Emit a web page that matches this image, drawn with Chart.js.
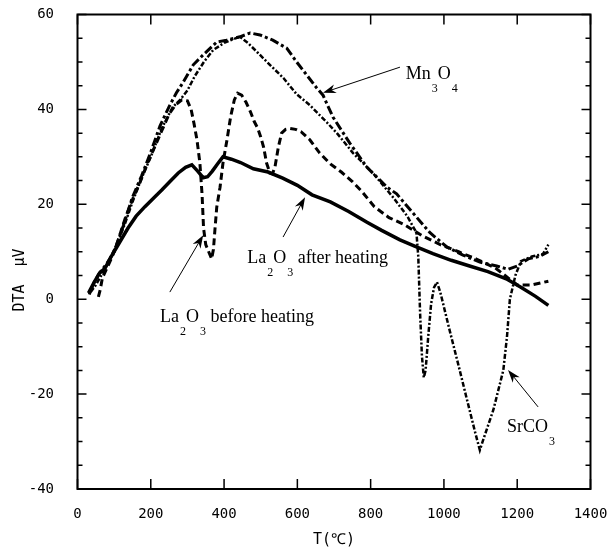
<!DOCTYPE html>
<html>
<head>
<meta charset="utf-8">
<script src="https://cdn.jsdelivr.net/npm/chart.js@4.4.1/dist/chart.umd.min.js"></script>
<style>
  html, body { margin: 0; padding: 0; background: #fff; }
  canvas { display: block; }
</style>
</head>
<body>
<canvas id="dta" width="609" height="552"></canvas>
<script>
// ----------------- Data -----------------
const xTicks = [0, 200, 400, 600, 800, 1000, 1200, 1400];
const yTicks = [-40, -20, 0, 20, 40, 60];

// La2O3 after heating (solid)
const afterT = [30, 45, 60, 75, 92, 115, 138, 160, 184, 210, 230, 255, 275, 295, 312, 328, 343, 355, 368, 382, 397, 420, 445, 480, 520, 560, 600, 640, 690, 740, 790, 830, 880, 920, 970, 1020, 1070, 1120, 1170, 1210, 1250, 1285];
const afterY = [1.3, 3.5, 5.5, 6.5, 9, 12, 15, 17.5, 19.5, 21.5, 23, 25, 26.6, 27.8, 28.3, 27, 25.6, 25.8, 27, 28.5, 30, 29.5, 28.8, 27.5, 26.8, 25.5, 24, 22, 20.5, 18.5, 16.2, 14.5, 12.5, 11.2, 9.6, 8.2, 7, 5.8, 4.3, 2.5, 0.6, -1.3];

// La2O3 before heating (dashed)
const beforeT = [57, 62, 68, 80, 95, 111, 130, 150, 170, 190, 210, 230, 250, 268, 285, 300, 310, 318, 326, 334, 340, 344, 350, 358, 366, 371, 375, 380, 389, 397, 408, 418, 428, 437, 448, 460, 472, 482, 492, 500, 508, 516, 525, 532, 539, 548, 557, 568, 580, 595, 610, 634, 661, 690, 720, 750, 775, 810, 850, 890, 940, 990, 1040, 1090, 1140, 1175, 1200, 1240, 1285];
const beforeY = [0.5, 2, 4.5, 6.5, 9, 12.5, 17, 21, 24.5, 28.5, 32, 35.5, 39, 41, 42, 41.8, 40, 37, 33.6, 28.7, 22, 15, 11.5, 10, 8.5, 10.5, 14.6, 19.4, 23.6, 28.7, 33.6, 38.5, 42, 43.4, 43, 41.5, 39.5, 37.5, 36, 34.2, 32, 28.7, 26.6, 26.4, 27.9, 32, 35, 35.8, 36, 35.8, 35.3, 33.6, 30.8, 28.5, 26.8, 24.8, 22.8, 19.5, 17.2, 15.8, 13.4, 11.5, 10, 8.4, 6.6, 4.5, 3, 3, 3.8];

// Mn3O4 (heavy dash-dot)
const mnT = [32, 45, 60, 80, 100, 125, 150, 175, 200, 225, 252, 270, 289, 316, 343, 380, 407, 443, 471, 498, 533, 571, 598, 626, 653, 670, 697, 743, 790, 845, 871, 915, 962, 1008, 1052, 1098, 1144, 1175, 1200, 1230, 1260, 1285];
const mnY = [1, 3.5, 5.5, 7.5, 10, 15.5, 21.5, 26, 31, 36.5, 40.9, 43.5, 45.8, 49.4, 51.5, 54.2, 54.6, 55.3, 56.1, 55.7, 54.6, 52.9, 50, 47.2, 44.5, 43, 38.4, 32.9, 27.8, 23.6, 22.2, 18.2, 14, 11, 9.3, 7.8, 7, 6.3, 7, 8.5, 9, 10];

// SrCO3 (fine dash-dot)
const srT = [36, 50, 65, 85, 110, 130, 150, 175, 200, 230, 260, 280, 300, 320, 345, 370, 400, 425, 443, 465, 490, 525, 562, 598, 634, 680, 708, 752, 806, 861, 900, 925, 930, 935, 940, 945, 950, 957, 965, 973, 981, 990, 1017, 1040, 1063, 1085, 1098, 1110, 1135, 1162, 1172, 1180, 1195, 1210, 1240, 1270, 1285];
const srY = [1.5, 3, 5, 8, 12, 16, 20.5, 25.5, 30, 36, 40.5, 42, 44, 47, 50, 52.5, 54, 54.8, 55.3, 54, 52.1, 49.4, 46.6, 43.2, 40.9, 37.3, 35, 30.8, 26.6, 21.5, 17.5, 14, 9, -3, -12, -16.5, -15, -8, -1, 2.5, 3.6, 1.5, -7, -14, -21.2, -28, -31.8, -29, -23.3, -15, -8, 0, 5, 8, 9, 9.5, 11.5];

// ----------------- Annotations (data coordinates) -----------------
const labels = [
  { t: 896, v: 46.4, parts: [["Mn", 0], ["3", 1], ["O", 0], ["4", 1]] },
  { t: 463, v: 7.6, parts: [["La", 0], ["2", 1], ["O", 0], ["3", 1], [" after heating", 0]] },
  { t: 225, v: -4.8, parts: [["La", 0], ["2", 1], ["O", 0], ["3", 1], [" before heating", 0]] },
  { t: 1172, v: -28, parts: [["SrCO", 0], ["3", 1]] }
];
const arrows = [
  { from: [880, 48.9], to: [670, 43.5] },
  { from: [561, 13.1], to: [621, 21.5] },
  { from: [252, 1.5], to: [343, 13.5] },
  { from: [1257, -22.7], to: [1175, -14.9] }
];

const zip = (xs, ys) => xs.map((x, i) => ({ x: x, y: ys[i] }));

// ----------------- Frame, ticks, labels -----------------
const framePlugin = {
  id: "frame",
  afterDraw(chart) {
    const { ctx, chartArea: a } = chart;
    const x = chart.scales.x, y = chart.scales.y;
    ctx.save();
    ctx.strokeStyle = "#000";
    ctx.fillStyle = "#000";

    // box
    ctx.lineWidth = 2;
    ctx.strokeRect(a.left, a.top, a.right - a.left, a.bottom - a.top);

    // inward ticks
    ctx.lineWidth = 1.5;
    ctx.beginPath();
    xTicks.forEach(v => {
      const px = x.getPixelForValue(v);
      ctx.moveTo(px, a.bottom); ctx.lineTo(px, a.bottom - 10);
      ctx.moveTo(px, a.top); ctx.lineTo(px, a.top + 10);
    });
    for (let v = -40; v <= 60; v += 5) {
      const py = y.getPixelForValue(v);
      const len = v % 20 === 0 ? 9 : 5;
      ctx.moveTo(a.left, py); ctx.lineTo(a.left + len, py);
      ctx.moveTo(a.right, py); ctx.lineTo(a.right - len, py);
    }
    ctx.stroke();

    // arrows
    ctx.lineWidth = 1;
    arrows.forEach(ar => {
      const x0 = x.getPixelForValue(ar.from[0]), y0 = y.getPixelForValue(ar.from[1]);
      const x1 = x.getPixelForValue(ar.to[0]), y1 = y.getPixelForValue(ar.to[1]);
      const ang = Math.atan2(y1 - y0, x1 - x0);
      ctx.beginPath();
      ctx.moveTo(x0, y0);
      ctx.lineTo(x1 - 8 * Math.cos(ang), y1 - 8 * Math.sin(ang));
      ctx.stroke();
      ctx.beginPath();
      ctx.moveTo(x1, y1);
      ctx.lineTo(x1 - 13 * Math.cos(ang) + 4.5 * Math.sin(ang), y1 - 13 * Math.sin(ang) - 4.5 * Math.cos(ang));
      ctx.lineTo(x1 - 9 * Math.cos(ang), y1 - 9 * Math.sin(ang));
      ctx.lineTo(x1 - 13 * Math.cos(ang) - 4.5 * Math.sin(ang), y1 - 13 * Math.sin(ang) + 4.5 * Math.cos(ang));
      ctx.closePath();
      ctx.fill();
    });

    // chemical labels with subscripts
    ctx.textBaseline = "alphabetic";
    ctx.textAlign = "left";
    labels.forEach(lb => {
      let px = x.getPixelForValue(lb.t);
      const py = y.getPixelForValue(lb.v);
      lb.parts.forEach(([txt, sub]) => {
        ctx.font = sub ? "12px 'Liberation Serif'" : "18px 'Liberation Serif'";
        ctx.fillText(txt, px, sub ? py + 13 : py);
        px += ctx.measureText(txt).width + (sub ? 0 : 1);
      });
    });

    // axis titles
    ctx.font = "15px 'DejaVu Sans Mono'";
    ctx.textAlign = "center";
    ctx.textBaseline = "middle";
    ctx.fillText("T(\u2103)", (a.left + a.right) / 2, 540);
    ctx.translate(20, 280);
    ctx.rotate(-Math.PI / 2);
    ctx.fillText("DTA  \u03bcV", 0, 0);
    ctx.restore();
  }
};

// ----------------- Chart -----------------
function renderChart() {
  const tickFont = { family: "'DejaVu Sans Mono'", size: 14 };
  new Chart(document.getElementById("dta").getContext("2d"), {
    type: "line",
    data: {
      datasets: [
        { label: "SrCO3", data: zip(srT, srY), borderColor: "#000", borderWidth: 2.5, borderDash: [5, 2, 2, 2] },
        { label: "Mn3O4", data: zip(mnT, mnY), borderColor: "#000", borderWidth: 3, borderDash: [9, 3, 3, 3] },
        { label: "La2O3 before heating", data: zip(beforeT, beforeY), borderColor: "#000", borderWidth: 3, borderDash: [7, 4] },
        { label: "La2O3 after heating", data: zip(afterT, afterY), borderColor: "#000", borderWidth: 3.5 }
      ]
    },
    options: {
      responsive: false,
      animation: false,
      layout: { padding: { top: 14.5, right: 18.5, left: 0, bottom: 0 } },
      elements: { point: { radius: 0 }, line: { tension: 0 } },
      plugins: { legend: { display: false }, tooltip: { enabled: false } },
      scales: {
        x: {
          type: "linear", min: 0, max: 1400,
          afterBuildTicks: s => { s.ticks = xTicks.map(v => ({ value: v })); },
          ticks: { color: "#000", font: tickFont, padding: 9, maxRotation: 0, callback: v => String(v) },
          grid: { display: false }, border: { display: false },
          afterFit: s => { s.height = 63; s.paddingLeft = 0; s.paddingRight = 0; }
        },
        y: {
          type: "linear", min: -40, max: 60,
          afterBuildTicks: s => { s.ticks = yTicks.map(v => ({ value: v })); },
          ticks: { color: "#000", font: tickFont, padding: 15.5, callback: v => String(v) },
          grid: { display: false }, border: { display: false },
          afterFit: s => { s.width = 77.5; s.paddingTop = 0; s.paddingBottom = 0; }
        }
      }
    },
    plugins: [framePlugin]
  });
}

window.addEventListener("DOMContentLoaded", renderChart);
</script>
</body>
</html>
